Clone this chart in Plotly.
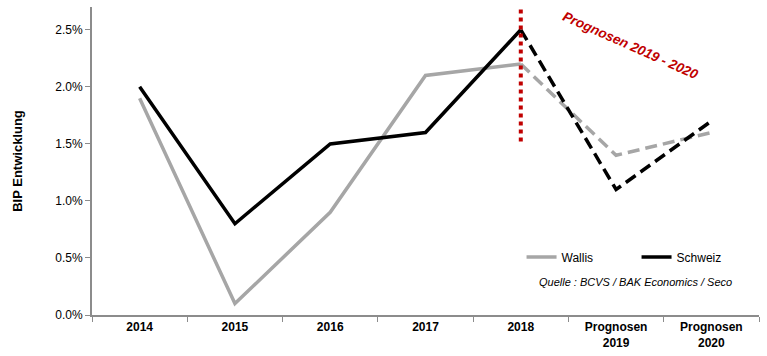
import plotly.graph_objects as go

categories = ["2014", "2015", "2016", "2017", "2018", "Prognosen<br>2019", "Prognosen<br>2020"]
wallis = [0.019, 0.001, 0.009, 0.021, 0.022, 0.014, 0.016]
schweiz = [0.020, 0.008, 0.015, 0.016, 0.025, 0.011, 0.017]
hist_n = 5  # 2014-2018 actual

grey = "#a6a6a6"
black = "#000000"
red = "#c00000"
font = "Liberation Sans, Arial, sans-serif"

fig = go.Figure()
fig.add_trace(go.Scatter(x=categories[:hist_n], y=wallis[:hist_n], mode="lines", name="Wallis",
                         line=dict(color=grey, width=3.5)))
fig.add_trace(go.Scatter(x=categories[:hist_n], y=schweiz[:hist_n], mode="lines", name="Schweiz",
                         line=dict(color=black, width=3.5)))
fig.add_trace(go.Scatter(x=categories[hist_n-1:], y=wallis[hist_n-1:], mode="lines", showlegend=False,
                         line=dict(color=grey, width=3.5, dash="12px,6px")))
fig.add_trace(go.Scatter(x=categories[hist_n-1:], y=schweiz[hist_n-1:], mode="lines", showlegend=False,
                         line=dict(color=black, width=3.5, dash="12px,6px")))

fig.add_shape(type="line", xref="x", yref="y", x0=4, x1=4, y0=0.0152, y1=0.027,
              line=dict(color=red, width=4, dash="dot"))

fig.add_annotation(x=5.15, y=0.0236, xref="x", yref="y", text="<b><i>Prognosen 2019 - 2020</i></b>",
                   showarrow=False, textangle=24, font=dict(color=red, size=13.5, family=font))
fig.add_annotation(x=0.815, y=0.081, xref="paper", yref="paper", xanchor="center",
                   text="<i>Quelle : BCVS / BAK Economics / Seco</i>",
                   showarrow=False, font=dict(color="#000", size=11, family=font))

fig.update_layout(
    width=767, height=356,
    margin=dict(l=92, r=8, t=7, b=41, autoexpand=False),
    plot_bgcolor="white", paper_bgcolor="white",
    font=dict(family=font, size=12, color="#000"),
    legend=dict(orientation="h", x=0.644, y=0.188, xanchor="left", yanchor="middle",
                entrywidth=70, entrywidthmode="pixels", font=dict(size=12),
                bgcolor="rgba(0,0,0,0)"),
    xaxis=dict(type="category", showline=True, linecolor="#8c8c8c", linewidth=2,
               ticks="outside", tickson="boundaries", ticklen=5, tickcolor="#8c8c8c",
               tickfont=dict(size=12), showgrid=False, range=[-0.5, 6.5], automargin=False,
               ticktext=["<b>" + c + "</b>" for c in categories], tickvals=categories),
    yaxis=dict(range=[0, 0.027], tickvals=[0, 0.005, 0.01, 0.015, 0.02, 0.025], tickformat=".1%",
               showline=True, linecolor="#8c8c8c", linewidth=2, ticks="outside", ticklen=5,
               tickcolor="#8c8c8c", showgrid=False, zeroline=False, automargin=False,
               title=dict(text="<b>BIP Entwicklung</b>", font=dict(size=13), standoff=30)),
)

fig.write_html("out.html")
